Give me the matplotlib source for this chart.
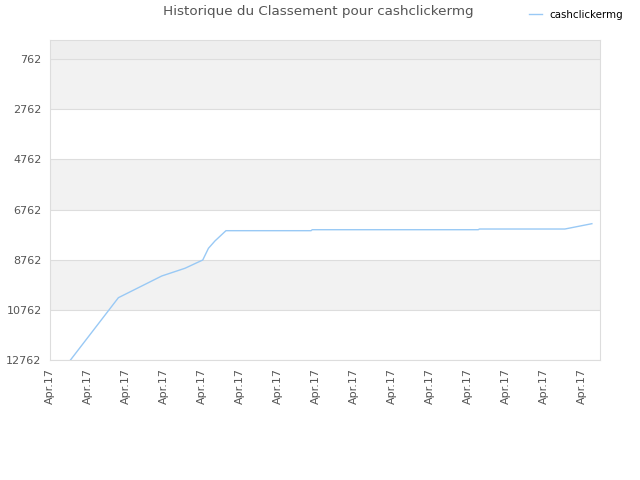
import numpy as np
import matplotlib.pyplot as plt

title = 'Historique du Classement pour cashclickermg'
series_name = 'cashclickermg'

# x position in tick units (one tick per label), rank values
days = [0.53, 1.80, 2.94, 3.55, 4.02, 4.17, 4.34, 4.63, 6.87, 6.90, 11.27, 11.30, 13.55, 14.26]
ranks = [12780, 10277, 9412, 9105, 8774, 8307, 8016, 7605, 7605, 7566, 7566, 7538, 7538, 7326]

yticks = [762, 2762, 4762, 6762, 8762, 10762, 12762]
xlabels = ['Apr.17'] * 15

fig = plt.figure(figsize=(6.4, 4.8), dpi=100)
ax = fig.add_axes([50/640, 120/480, 550/640, 320/480])

# background bands
ax.axhspan(0, 762, color='#eeeeee', zorder=0, lw=0)
for i in range(len(yticks) - 1):
    if i % 2 == 0:
        ax.axhspan(yticks[i], yticks[i+1], color='#f2f2f2', zorder=0, lw=0)
for t in yticks:
    ax.axhline(t, color='#dddddd', lw=0.8, zorder=1)

ax.plot(days, ranks, color='#99c9f5', lw=1.0, zorder=3, label=series_name)

ax.set_ylim(12762, 0)
ax.set_xlim(0, 550/38)
ax.set_yticks(yticks)
ax.set_yticklabels([str(t) for t in yticks])
ax.set_xticks(np.arange(len(xlabels)))
ax.set_xticklabels(xlabels, rotation=90)
ax.tick_params(length=0, labelsize=8, colors='#555555', pad=6)

for s in ax.spines.values():
    s.set_color('#dddddd')

fig.text(318/640, 1 - 12/480, title, ha='center', va='center', fontsize=9.7, color='#555555')
leg = fig.legend(loc='center left', bbox_to_anchor=(520/640, 1 - 15/480), frameon=False,
                 fontsize=7.4, handlelength=1.2, handletextpad=0.8)

fig.savefig('out.png', dpi=100)
